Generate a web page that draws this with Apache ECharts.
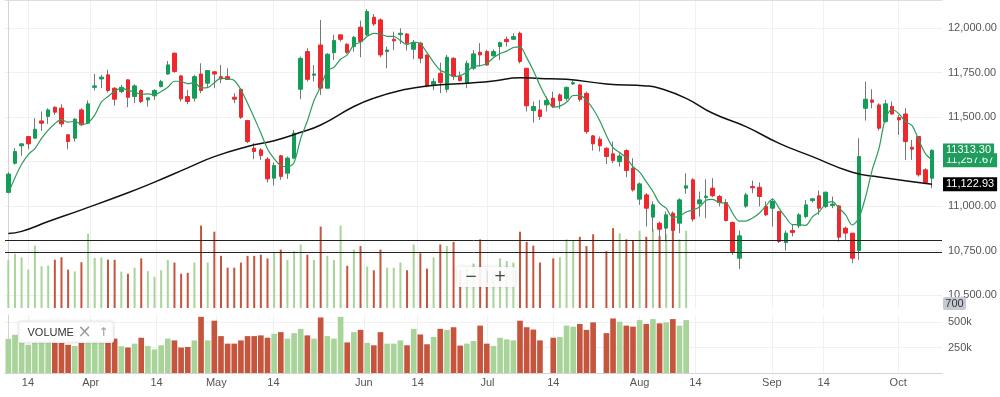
<!DOCTYPE html>
<html>
<head>
<meta charset="utf-8">
<style>
html, body { margin: 0; padding: 0; background: #fff; }
#chart { width: 1000px; height: 397px; }
</style>
<script src="https://cdn.jsdelivr.net/npm/echarts@6/dist/echarts.min.js"></script>
</head>
<body>
<div id="chart"></div>
<script>
// daily candles: [open, close, low, high]
var candles = [
  [11077, 11180, 11072, 11190], [11241, 11307, 11233, 11326], [11339, 11350, 11283, 11354], [11391, 11350, 11320, 11393],
  [11382, 11432, 11380, 11494], [11479, 11466, 11423, 11532], [11504, 11541, 11462, 11550], [11556, 11528, 11513, 11560],
  [11551, 11462, 11444, 11573], [11401, 11363, 11320, 11403], [11382, 11489, 11363, 11494], [11541, 11457, 11451, 11550],
  [11466, 11575, 11462, 11594], [11668, 11676, 11650, 11743], [11715, 11725, 11663, 11738], [11738, 11650, 11639, 11766],
  [11663, 11601, 11565, 11668], [11644, 11668, 11635, 11682], [11710, 11612, 11556, 11713], [11616, 11676, 11579, 11685],
  [11650, 11588, 11579, 11657], [11597, 11609, 11560, 11609], [11620, 11650, 11597, 11657], [11672, 11700, 11668, 11710],
  [11743, 11794, 11738, 11816], [11860, 11757, 11751, 11863], [11732, 11603, 11588, 11738], [11616, 11588, 11573, 11653],
  [11607, 11728, 11588, 11738], [11743, 11650, 11635, 11803], [11691, 11762, 11668, 11762], [11755, 11743, 11663, 11760],
  [11728, 11715, 11691, 11794], [11728, 11712, 11710, 11775], [11612, 11601, 11579, 11635], [11657, 11500, 11490, 11663],
  [11481, 11363, 11354, 11485], [11326, 11307, 11264, 11354], [11316, 11285, 11260, 11326], [11264, 11153, 11133, 11275],
  [11157, 11228, 11116, 11245], [11283, 11167, 11148, 11288], [11185, 11270, 11153, 11279], [11270, 11410, 11264, 11429],
  [11657, 11831, 11601, 11841], [11869, 11713, 11700, 11888], [11736, 11743, 11700, 11794], [11906, 11663, 11625, 12047],
  [11663, 11854, 11663, 11860], [11863, 11931, 11822, 11963], [11963, 11938, 11925, 11963], [11910, 11865, 11856, 11916],
  [11897, 11949, 11869, 11957], [12006, 11925, 11837, 12043], [11963, 12094, 11957, 12107], [12062, 12024, 12013, 12080],
  [12047, 11850, 11837, 12056], [11869, 11878, 11775, 11897], [11938, 11929, 11878, 11981], [11964, 11972, 11912, 12000],
  [11968, 11916, 11875, 11972], [11882, 11919, 11826, 11934], [11916, 11831, 11803, 11925], [11850, 11676, 11668, 11850],
  [11682, 11700, 11653, 11719], [11747, 11695, 11635, 11807], [11657, 11837, 11639, 11850], [11831, 11732, 11710, 11837],
  [11728, 11706, 11700, 11757], [11691, 11803, 11663, 11818], [11775, 11856, 11766, 11878], [11865, 11850, 11785, 11916],
  [11869, 11794, 11788, 11878], [11845, 11869, 11841, 11882], [11897, 11919, 11822, 11925], [11938, 11925, 11897, 11953],
  [11938, 11953, 11934, 11972], [11972, 11813, 11803, 11981], [11775, 11564, 11532, 11775], [11537, 11560, 11470, 11588],
  [11541, 11504, 11485, 11597], [11569, 11594, 11532, 11616], [11607, 11560, 11551, 11644], [11625, 11593, 11545, 11634],
  [11606, 11668, 11593, 11672], [11687, 11694, 11681, 11706], [11681, 11600, 11588, 11687], [11634, 11419, 11406, 11644],
  [11395, 11350, 11312, 11400], [11376, 11339, 11307, 11391], [11325, 11279, 11237, 11331], [11294, 11256, 11241, 11363],
  [11250, 11282, 11222, 11297], [11312, 11200, 11163, 11320], [11213, 11091, 11082, 11269], [11039, 11125, 11007, 11133],
  [11063, 10988, 10885, 11073], [10938, 11007, 10857, 11026], [10904, 10870, 10820, 10913], [10876, 10951, 10801, 10970],
  [10960, 10863, 10848, 10970], [10904, 11035, 10848, 11044], [11101, 11114, 11069, 11185], [11148, 10927, 10913, 11157],
  [11013, 11035, 10941, 11082], [11048, 11056, 10932, 11151], [11101, 11058, 11050, 11157], [11054, 11020, 10998, 11063],
  [11020, 10919, 10913, 11039], [10908, 10745, 10726, 10913], [10707, 10833, 10646, 10863], [11000, 11063, 10990, 11075],
  [11110, 11103, 11072, 11144], [11106, 11054, 10998, 11133], [10998, 10951, 10945, 11026], [10988, 11026, 10885, 11044],
  [10970, 10801, 10792, 10970], [10795, 10848, 10750, 10863], [10863, 10852, 10829, 10900], [10889, 10951, 10876, 10960],
  [10941, 11007, 10932, 11035], [11031, 11041, 11020, 11044], [11058, 10988, 10951, 11088], [10998, 11078, 10988, 11082],
  [11003, 11011, 10988, 11054], [11001, 10825, 10801, 11007], [10876, 10848, 10810, 10885], [10848, 10707, 10679, 10848],
  [10750, 11279, 10698, 11382], [11550, 11601, 11481, 11700], [11597, 11584, 11550, 11657], [11569, 11438, 11425, 11578],
  [11475, 11575, 11470, 11597], [11560, 11518, 11513, 11588], [11498, 11485, 11400, 11513], [11518, 11363, 11260, 11550],
  [11331, 11320, 11260, 11372], [11391, 11176, 11166, 11395], [11204, 11133, 11129, 11213], [11157, 11313.3, 11101, 11320]
];

// volume in thousands (null = no bar)
var volumes = [
  335, 375, 353, 276, 426, 297, 301, 338, 353, 276, 265, 322, 500, 349, 353, 338, 337, 263, 250, 288,
  346, 266, 231, 272, 337, 320, 250, 256, 320, 551, 320, 513, 362, 288, 288, 320, 362, 362, 369, 346,
  385, 401, 337, 391, 433, 369, 337, 545, 362, 337, 551, 300, 401, 423, 295, 272, 401, 288, 288, 320,
  272, 433, 378, 282, 353, 433, 423, 449, 269, 288, 314, 465, 288, 266, 346, 330, 320, 513, 449, 426,
  320, null, 346, 353, 465, 455, 481, 423, 497, null, 391, 535, 503, 465, 455, 519, 481, 529, 487, 497,
  529, 465, 519
];

// slow moving average: [candle index, value]
var slowMa = [
  [0, 10846], [2, 10858], [6, 10913], [11, 10979], [18, 11075], [22, 11135], [27, 11215], [31, 11278],
  [36, 11335], [40, 11368], [44, 11415], [47, 11456], [52, 11560], [55, 11607], [59, 11650], [63, 11676],
  [70, 11694], [73, 11704], [77, 11722], [80, 11718], [84, 11713], [90, 11687], [96, 11676], [98, 11663],
  [102, 11606], [106, 11522], [111, 11447], [116, 11353], [121, 11278], [127, 11190], [131, 11164], [139, 11123]
];
// first points of the 5-day average (they use days before the chart)
var fastMaStart = [11073, 11160, 11235, 11290];

var tickPos = [2.95, 12.4, 22.3, 31.3, 39.9, 53.5, 61.6, 72.1, 82.0, 95.0, 103.4, 114.9, 122.7, 133.9];
var tickText = ['14', 'Apr', '14', 'May', '14', 'Jun', '14', 'Jul', '14', 'Aug', '14', 'Sep', '14', 'Oct'];
var priceTicks = [10500, 10750, 11000, 11250, 11500, 11750, 12000];
var priceLabels = [10500, 10750, 11000, 11500, 11750, 12000];
var volTicks = [250, 500];
var levels = [10810, 10741];
var tagLast = 11313.30, tagFast = 11257.67, tagSlow = 11122.93;

var UP = '#139e58', DOWN = '#f0282e';
var VUP = '#a8d49a', VDOWN = '#c6553e';
var N = candles.length + 1;

var closes = candles.map(function (c) { return c[1]; });
var fastMa = closes.map(function (c, i) {
  if (i < 4) return fastMaStart[i];
  var s = 0;
  for (var j = i - 4; j <= i; j++) s += closes[j];
  return +(s / 5).toFixed(2);
});
var bodies = candles.map(function (c) {
  return [c[0], c[1], Math.min(c[0], c[1]), Math.max(c[0], c[1])];
});
var cats = [];
for (var i = 0; i < N; i++) cats.push(String(i));
var volBars = volumes.map(function (v, i) {
  if (v == null) return '-';
  var up = i === 0 || closes[i] >= closes[i - 1];
  return { value: v, itemStyle: { color: up ? VUP : VDOWN } };
});

function fmt(v) {
  return v.toLocaleString('en-US', { minimumFractionDigits: 2, maximumFractionDigits: 2 });
}
function tickLabel(v) {
  for (var i = 0; i < tickPos.length; i++) {
    if (Math.abs(tickPos[i] - v) < 0.01) return tickText[i];
  }
  return '';
}
function tag(value, text, bg) {
  return {
    yAxis: value,
    lineStyle: { color: 'rgba(0,0,0,0)', width: 0 },
    label: {
      show: true, position: 'end', distance: 1, formatter: text, opacity: 1,
      color: '#fff', backgroundColor: bg, padding: [2, 3, 1, 3],
      fontSize: 11, fontFamily: 'Liberation Sans'
    }
  };
}

var myChart = echarts.init(document.getElementById('chart'));
var option = {
  animation: false,
  textStyle: { fontFamily: 'Liberation Sans, Arial, sans-serif' },
  grid: [
    { left: 5, right: 58, top: 0, height: 308 },
    { left: 5, right: 58, top: 315, height: 58 }
  ],
  xAxis: [
    { type: 'category', gridIndex: 0, data: cats, show: false },
    {
      type: 'value', gridIndex: 0, min: -0.5, max: N - 0.5,
      axisLine: { show: true, onZero: false, lineStyle: { color: '#ddd' } },
      axisTick: { show: false, customValues: tickPos },
      axisLabel: { show: false, customValues: tickPos },
      splitLine: { show: true, lineStyle: { color: '#f0f0f0' } }
    },
    {
      type: 'category', gridIndex: 1, data: cats, position: 'top',
      axisLine: { show: true, lineStyle: { color: '#ddd' } },
      axisTick: { show: false }, axisLabel: { show: false }
    },
    {
      type: 'value', gridIndex: 1, min: -0.5, max: N - 0.5,
      axisLine: { show: true, onZero: false, lineStyle: { color: '#d4d4d4' } },
      axisTick: { show: false, customValues: tickPos },
      axisLabel: { customValues: tickPos, formatter: tickLabel, color: '#555', fontSize: 11, margin: 4 },
      splitLine: { show: true, lineStyle: { color: '#f0f0f0' } }
    }
  ],
  yAxis: [
    {
      type: 'value', gridIndex: 0, position: 'right', min: 10427, max: 12159,
      axisLine: { show: true, lineStyle: { color: '#d4d4d4' } },
      axisTick: { show: false, customValues: priceTicks },
      axisLabel: { customValues: priceLabels, formatter: fmt, color: '#555', fontSize: 11, margin: 6 },
      splitLine: { show: true, lineStyle: { color: '#f0f0f0' } }
    },
    { type: 'value', gridIndex: 0, min: 36, max: 1961, show: false, splitLine: { show: false } },
    {
      type: 'value', gridIndex: 1, position: 'right', min: 0, max: 569,
      axisLine: { show: true, lineStyle: { color: '#d4d4d4' } },
      axisTick: { show: false, customValues: volTicks },
      axisLabel: { customValues: volTicks, formatter: function (v) { return v + 'k'; }, color: '#555', fontSize: 11, margin: 6 },
      splitLine: { show: true, lineStyle: { color: '#f0f0f0' } }
    }
  ],
  series: [
    {
      name: 'volume overlay', type: 'bar', xAxisIndex: 0, yAxisIndex: 1,
      data: volBars, barWidth: 2, clip: true, z: 1
    },
    {
      name: 'volume', type: 'bar', xAxisIndex: 2, yAxisIndex: 2,
      data: volBars, barWidth: '85%'
    },
    {
      name: 'wicks', type: 'candlestick', xAxisIndex: 0, yAxisIndex: 0,
      data: candles, barWidth: 1,
      itemStyle: { color: '#777', color0: '#777', borderColor: '#777', borderColor0: '#777', borderWidth: 1 }
    },
    {
      name: 'MA slow', type: 'line', xAxisIndex: 0, yAxisIndex: 0,
      data: slowMa, smooth: true, showSymbol: false,
      lineStyle: { color: '#111', width: 1.5 }
    },
    {
      name: 'MA fast', type: 'line', xAxisIndex: 0, yAxisIndex: 0,
      data: fastMa, smooth: 0.3, showSymbol: false,
      lineStyle: { color: '#2f9b5c', width: 1.2 }
    },
    {
      name: 'price', type: 'candlestick', xAxisIndex: 0, yAxisIndex: 0,
      data: bodies, barWidth: 4,
      itemStyle: { color: UP, color0: DOWN, borderColor: UP, borderColor0: DOWN, borderWidth: 1 },
      markLine: {
        silent: true, symbol: ['none', 'none'],
        lineStyle: { color: '#222', width: 1, type: 'solid' },
        label: { show: false },
        data: [
          { yAxis: levels[0] }, { yAxis: levels[1] },
          tag(tagSlow, fmt(tagSlow), '#000'),
          tag(tagFast, fmt(tagFast), '#1f9d5c'),
          tag(tagLast, tagLast.toFixed(2), '#1f9d5c')
        ]
      }
    }
  ],
  graphic: [
    {
      type: 'group', left: 18, top: 321,
      children: [
        { type: 'rect', z: 100, shape: { x: 0, y: 0, width: 95, height: 21, r: 2 },
          style: { fill: '#fff', stroke: '#ececec', shadowBlur: 3, shadowColor: 'rgba(0,0,0,0.12)' } },
        { type: 'text', z: 101, x: 9, y: 11, style: { text: 'VOLUME', fill: '#333', font: '11px Liberation Sans', verticalAlign: 'middle' } },
        { type: 'text', z: 101, x: 59, y: 11, style: { text: '×', fill: '#999', font: '17px DejaVu Sans', verticalAlign: 'middle' } },
        { type: 'text', z: 101, x: 80, y: 11, style: { text: '↑', fill: '#999', font: '12px DejaVu Sans', verticalAlign: 'middle' } }
      ]
    },
    {
      type: 'group', left: 457, top: 267,
      children: [
        { type: 'rect', z: 100, shape: { x: 0, y: 0, width: 58, height: 20, r: 2 },
          style: { fill: 'rgba(255,255,255,0.9)', shadowBlur: 4, shadowColor: 'rgba(0,0,0,0.15)' } },
        { type: 'text', z: 101, x: 14, y: 10, style: { text: '−', fill: '#444', font: '15px DejaVu Sans', align: 'center', verticalAlign: 'middle' } },
        { type: 'line', z: 101, shape: { x1: 30.5, y1: 4, x2: 30.5, y2: 16 }, style: { stroke: '#ddd' } },
        { type: 'text', z: 101, x: 43, y: 10, style: { text: '+', fill: '#444', font: '15px DejaVu Sans', align: 'center', verticalAlign: 'middle' } }
      ]
    },
    {
      type: 'group', left: 943, top: 297,
      children: [
        { type: 'rect', z: 100, shape: { x: 0, y: 0, width: 23, height: 13, r: 2 }, style: { fill: '#c6c9d1' } },
        { type: 'text', z: 101, x: 11.5, y: 7, style: { text: '700', fill: '#333', font: '11px Liberation Sans', align: 'center', verticalAlign: 'middle' } }
      ]
    }
  ]
};
myChart.setOption(option);
</script>
</body>
</html>
